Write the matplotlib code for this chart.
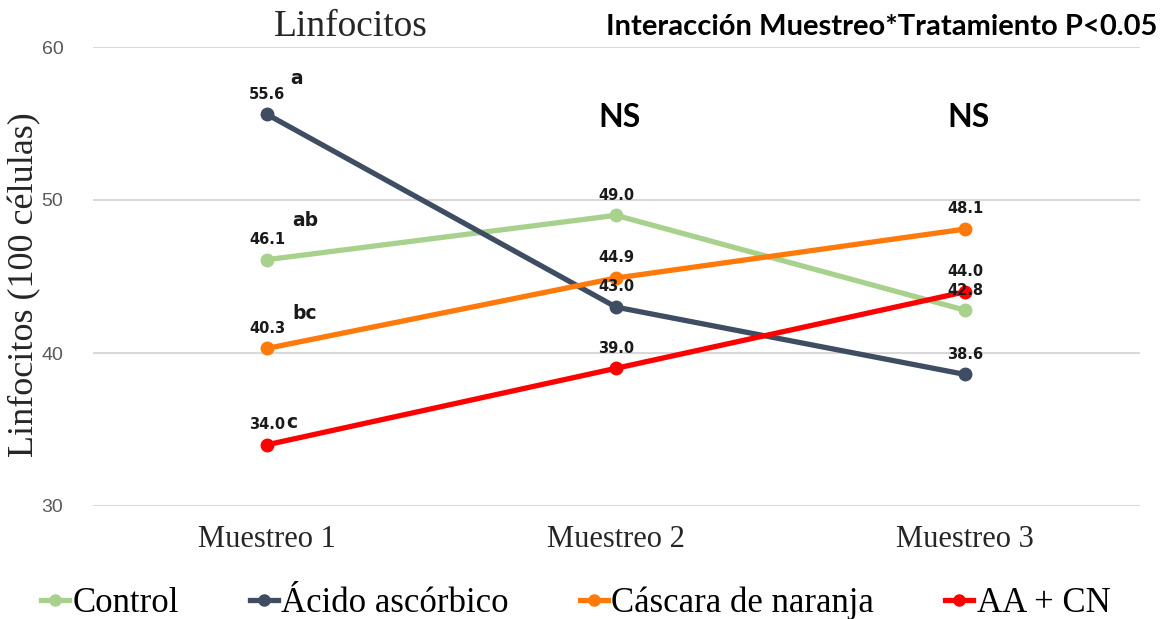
import matplotlib
matplotlib.use("Agg")
import matplotlib.pyplot as plt
from matplotlib.lines import Line2D

categories = ["Muestreo 1", "Muestreo 2", "Muestreo 3"]
series_names = ["Control", "Ácido ascórbico", "Cáscara de naranja", "AA + CN"]
control = [46.1, 49.0, 42.8]
acido = [55.6, 43.0, 38.6]
cascara = [40.3, 44.9, 48.1]
aacn = [34.0, 39.0, 44.0]
letters = ["ab", "a", "bc", "c"]  # letters at Muestreo 1
yticks = [30, 40, 50, 60]

colors = ["#A9D18E", "#3F4D63", "#FF7A0A", "#FF0000"]
series = [control, acido, cascara, aacn]

fig = plt.figure(figsize=(11.7, 6.19), dpi=100)
ax = fig.add_axes([92.5/1170, 1-506/619, (1139.5-92.5)/1170, (506-47)/619])

x = list(range(len(categories)))
for vals, c in zip(series, colors):
    ax.plot(x, vals, color=c, lw=3.8, marker="o", ms=9, solid_capstyle="round", zorder=3)
    for xi, v in zip(x, vals):
        ax.annotate(f"{v:.1f}", (xi, v), xytext=(0, 14.5), textcoords="offset points",
                    ha="center", va="center", fontsize=10.5, fontweight="bold",
                    color="#1A1A1A", family="DejaVu Sans", zorder=5)

# significance letters at Muestreo 1
letter_offsets = [(38, 39), (30, 36), (38, 35), (25, 22)]
for vals, lt, (dx, dy) in zip(series, letters, letter_offsets):
    ax.annotate(lt, (0, vals[0]), xytext=(dx/1.389, dy/1.389), textcoords="offset points",
                ha="center", va="center", fontsize=13.5, fontweight="bold",
                color="#1A1A1A", family="DejaVu Sans", zorder=5)

for xi in [1, 2]:
    ax.text(xi + 0.01, 55.4, "NS", ha="center", va="center", fontsize=23,
            fontweight="bold", color="black", family="Lato")

ax.set_xlim(-0.5, 2.5)
ax.set_ylim(30, 60)
ax.set_yticks(yticks)
ax.set_xticks(x)
ax.set_xticklabels(categories, family="Liberation Serif", fontsize=22, color="#262626")
ax.tick_params(axis="x", length=0, pad=14)
ax.tick_params(axis="y", length=0, pad=21, labelsize=14, labelcolor="#595959")
for lbl in ax.get_yticklabels():
    lbl.set_family("Liberation Sans")
ax.grid(axis="y", color="#D9D9D9", lw=1.5)
ax.set_axisbelow(True)
for s in ax.spines.values():
    s.set_visible(False)

fig.text(25/1170, 1-285/619, "Linfocitos (100 células)", rotation=90, ha="center",
         va="center", fontsize=26, family="Liberation Serif", color="#262626")
fig.text(351/1170, 1-27/619, "Linfocitos", ha="center", va="center", fontsize=27,
         family="Liberation Serif", color="#262626")
fig.text(1157/1170, 1-27/619, "Interacción Muestreo*Tratamiento P<0.05", ha="right",
         va="center", fontsize=21, fontweight="bold", family="Lato", color="black")

handles = [Line2D([], [], color=c, lw=3.8, marker="o", ms=8) for c in colors]
fig.legend(handles, series_names, loc="lower center", bbox_to_anchor=(0.492, -0.052),
           ncol=4, frameon=False, handlelength=0.8, handletextpad=0.1,
           columnspacing=2.05, prop={"family": "Liberation Serif", "size": 25})

fig.savefig("out.png", dpi=100, facecolor="white")
